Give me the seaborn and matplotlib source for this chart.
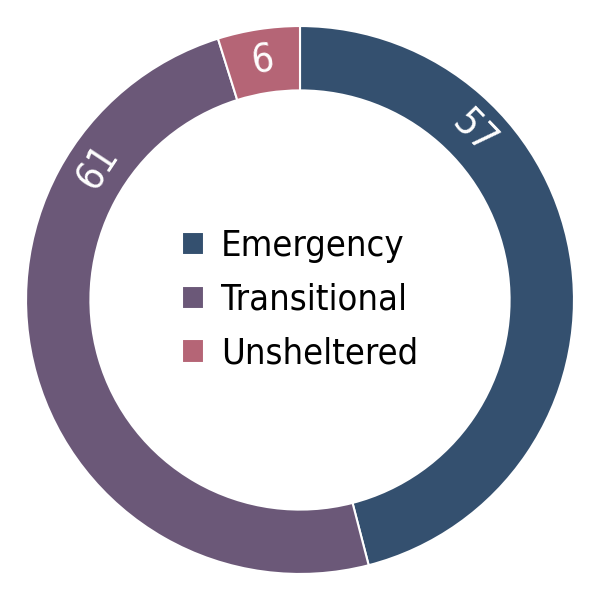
import numpy as np
import matplotlib
matplotlib.use("Agg")
import matplotlib.pyplot as plt
import seaborn as sns

# data
categories = ["Emergency", "Transitional", "Unsheltered"]
counts = [57, 61, 6]
colors = ["#34506f", "#6b5878", "#b56576"]
# where the value labels sit on the ring (degrees, counter-clockwise from east)
label_angles = [44, 146.5, 98.8]

sns.set_theme(style="white")
plt.rcParams["font.family"] = ["DejaVu Sans"]
plt.rcParams["font.stretch"] = "condensed"

fig, ax = plt.subplots(figsize=(6, 6), dpi=100)
fig.subplots_adjust(left=0, right=1, bottom=0, top=1)

palette = sns.color_palette(colors)
wedges, _ = ax.pie(counts, colors=palette, startangle=90, counterclock=False,
                   radius=1.0,
                   wedgeprops=dict(width=0.235, edgecolor="white", linewidth=1.5))

r_mid = 1.0 - 0.235 / 2
for val, ang in zip(counts, label_angles):
    a = np.deg2rad(ang)
    ax.text(r_mid * np.cos(a), r_mid * np.sin(a), str(val),
            rotation=ang - 90, ha="center", va="center",
            color="white", fontsize=28, fontstretch="condensed",
            rotation_mode="anchor")

leg = ax.legend(wedges, categories, loc="center", frameon=False,
                prop=dict(size=26, stretch="condensed"),
                handlelength=0.62, handleheight=0.62, handletextpad=0.45,
                labelspacing=0.55)
for t in leg.get_texts():
    t.set_color("black")

ax.set_xlim(-1.095, 1.095)
ax.set_ylim(-1.095, 1.095)
ax.set_aspect("equal")
ax.axis("off")

plt.savefig("out.png", dpi=100, facecolor="white")
